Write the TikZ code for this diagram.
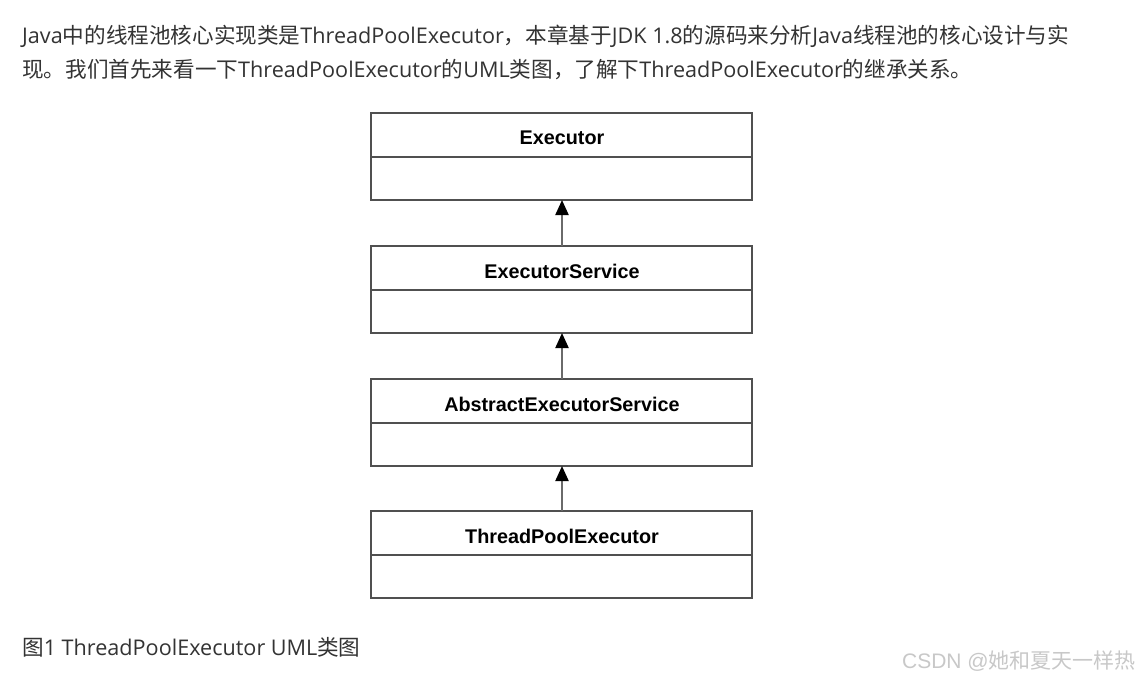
\documentclass[tikz,border=0pt]{standalone}
\usepackage{fontspec}
\setmainfont{Open Sans}
\newfontfamily\cjk{Noto Sans CJK SC}
\newfontfamily\umlfont{Liberation Sans}[BoldFont={Liberation Sans Bold}]
\usetikzlibrary{arrows.meta}
\definecolor{txt}{HTML}{333333}
\definecolor{boxline}{HTML}{505050}
\definecolor{wm}{HTML}{C8C8C8}
\newcommand{\zh}[1]{{\cjk #1}}
\begin{document}
\begin{tikzpicture}[x=1pt,y=-1pt,
  para/.style={anchor=west,inner sep=0pt,text=txt,font=\fontsize{21.6}{26}\selectfont},
  classname/.style={font=\umlfont\bfseries\fontsize{19.8}{22}\selectfont,text=black},
  classbox/.style={draw=boxline,line width=2.2pt},
  inherit/.style={draw=boxline!85,line width=2.2pt,-{Triangle[length=15pt,width=13pt,fill=black,color=black]}}]
\useasboundingbox (0,0) rectangle (1140,681);
\fill[white] (0,0) rectangle (1140,681);
\node[para] (l1) at (22,36) {Java\zh{中的线程池核心实现类是}ThreadPoolExecutor\zh{，本章基于}JDK 1.8\zh{的源码来分析}Java\zh{线程池的核心设计与实}};
\node[para] (l2) at (22,70) {\zh{现。我们首先来看一下}ThreadPoolExecutor\zh{的}UML\zh{类图，了解下}ThreadPoolExecutor\zh{的继承关系。}};
% boxes
\foreach \n/\t/\label in {a/113/Executor,b/246/ExecutorService,c/379/AbstractExecutorService,d/511/ThreadPoolExecutor}{
  \draw[classbox] (371,\t) rectangle (752,\t+87);
  \draw[classbox] (371,\t+44) -- (752,\t+44);
  \node[classname] (\n) at (562,\t+25) {\label};
  \coordinate (\n top) at (562,\t);
  \coordinate (\n bot) at (562,\t+87);
}
\draw[inherit] (btop) -- (abot);
\draw[inherit] (ctop) -- (bbot);
\draw[inherit] (dtop) -- (cbot);
\node[para] (cap) at (22,647) {\zh{图}1 ThreadPoolExecutor UML\zh{类图}};
\node[anchor=east,inner sep=0pt,text=wm,font=\fontsize{21}{24}\selectfont] (wmk) at (1136,661) {\umlfont CSDN @\zh{她和夏天一样热}};
\end{tikzpicture}
\end{document}
